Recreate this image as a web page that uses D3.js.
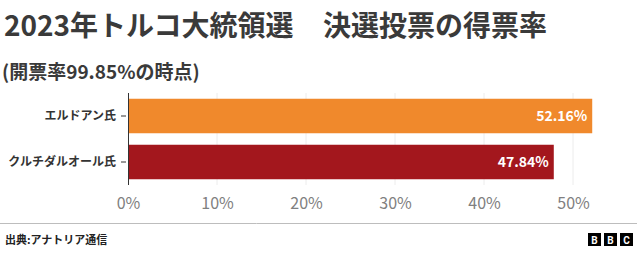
<!DOCTYPE html>
<html>
<head>
<meta charset="utf-8">
<script src="https://cdn.jsdelivr.net/npm/d3@7"></script>
<style>
  body { margin: 0; background: #fff; }
  svg { display: block; font-family: "Noto Sans CJK JP", "Noto Sans", sans-serif; }
</style>
</head>
<body>
<div id="chart"></div>
<script>
// data
const candidates = ['エルドアン氏', 'クルチダルオール氏'];
const shares = [52.16, 47.84];
const barColors = ['#f0892c', '#a3171d'];
const tickValues = [0, 10, 20, 30, 40, 50];

const width = 640, height = 254;

const svg = d3.select('#chart')
  .append('svg')
  .attr('width', width)
  .attr('height', height);

// title (two parts, wide gap between) + subtitle
svg.append('text')
  .attr('x', 4).attr('y', 36)
  .attr('font-size', 28).attr('font-weight', 700)
  .attr('fill', '#3a3a3a')
  .text('2023年トルコ大統領選');

svg.append('text')
  .attr('x', 323).attr('y', 36)
  .attr('font-size', 28).attr('font-weight', 700)
  .attr('fill', '#3a3a3a')
  .text('決選投票の得票率');

svg.append('text')
  .attr('x', 2).attr('y', 79)
  .attr('font-size', 19).attr('font-weight', 700)
  .attr('fill', '#3a3a3a')
  .text('(開票率99.85%の時点)');

const x = d3.scaleLinear()
  .domain([0, 50])
  .range([128, 573]);

const y = d3.scaleBand()
  .domain(candidates)
  .range([93, 185])
  .paddingInner(0.25)
  .paddingOuter(0.125);

// grid lines
svg.append('g')
  .selectAll('line')
  .data(tickValues.slice(1))
  .enter()
  .append('line')
  .attr('x1', d => x(d)).attr('x2', d => x(d))
  .attr('y1', 93).attr('y2', 185)
  .attr('stroke', '#ececec')
  .attr('stroke-width', 1);

// bars
svg.selectAll('.bar')
  .data(candidates)
  .enter()
  .append('rect')
  .attr('class', 'bar')
  .attr('x', x(0))
  .attr('y', d => y(d))
  .attr('width', (d, i) => x(shares[i]) - x(0))
  .attr('height', y.bandwidth())
  .attr('fill', (d, i) => barColors[i]);

// value labels
svg.selectAll('.label')
  .data(candidates)
  .enter()
  .append('text')
  .attr('class', 'label')
  .attr('x', (d, i) => x(shares[i]) - 5)
  .attr('y', d => y(d) + y.bandwidth() / 2)
  .attr('dy', '0.35em')
  .attr('text-anchor', 'end')
  .attr('font-size', 14)
  .attr('font-weight', 700)
  .attr('fill', '#fff')
  .text((d, i) => shares[i].toFixed(2) + '%');

// y axis
const yAxis = svg.append('g')
  .attr('transform', `translate(${x(0)},0)`)
  .call(d3.axisLeft(y).tickSize(5).tickPadding(6));
yAxis.select('.domain').attr('stroke', '#333').attr('d', 'M0.5,93V185');
yAxis.selectAll('.tick line').attr('stroke', '#333').attr('transform', 'translate(-2,0)');
yAxis.selectAll('.tick text')
  .attr('font-family', '"Noto Sans CJK JP", sans-serif')
  .attr('font-size', 12)
  .attr('font-weight', 700)
  .attr('fill', '#333')
  .attr('dx', -1);

// x axis labels
const xAxis = svg.append('g')
  .attr('transform', 'translate(0,185)')
  .call(d3.axisBottom(x).tickValues(tickValues).tickFormat(d => d + '%').tickSize(0).tickPadding(13));
xAxis.select('.domain').remove();
xAxis.selectAll('.tick text')
  .attr('font-family', '"Noto Sans CJK JP", sans-serif')
  .attr('font-size', 16)
  .attr('fill', '#808080');

// footer
svg.append('line')
  .attr('x1', 0).attr('x2', 637)
  .attr('y1', 223.5).attr('y2', 223.5)
  .attr('stroke', '#bdbdbd');

svg.append('text')
  .attr('x', 5).attr('y', 244)
  .attr('font-size', 11).attr('font-weight', 700)
  .attr('fill', '#222')
  .text('出典:アナトリア通信');

// BBC blocks
const logo = svg.append('g').attr('transform', 'translate(588,233)');
['B', 'B', 'C'].forEach((ch, i) => {
  logo.append('rect')
    .attr('x', i * 16).attr('y', 0)
    .attr('width', 13).attr('height', 13)
    .attr('fill', '#000');
  logo.append('text')
    .attr('x', i * 16 + 6.5).attr('y', 10.5)
    .attr('text-anchor', 'middle')
    .attr('font-family', 'Roboto, sans-serif')
    .attr('font-size', 10).attr('font-weight', 700)
    .attr('fill', '#fff')
    .text(ch);
});
</script>
</body>
</html>
